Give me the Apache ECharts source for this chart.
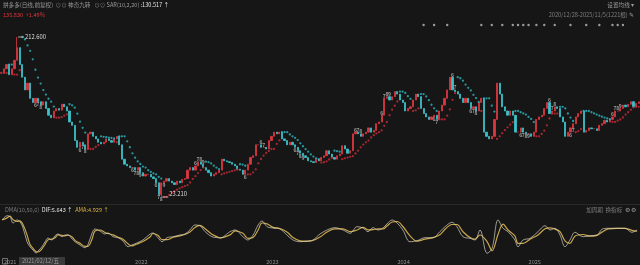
<!DOCTYPE html>
<html><head><meta charset="utf-8">
<script src="https://cdn.jsdelivr.net/npm/echarts@6.0.0/dist/echarts.min.js"></script>
<style>html,body{margin:0;padding:0;background:#161616;}#c{width:640px;height:265px;}</style>
</head><body><div id="c"></div>
<script>
// ---- data (5-trading-day blocks, 2020/12/28 - 2025/11/05) ----
const closes = [
 170,175,180,168,175,185,200,180,165,150,
 158,140,135,140,136,132,136,128,120,117,
 125,128,126,133,130,125,112,108,90,82,
 88,85,80,98,100,95,92,88,86,88,
 92,90,88,92,95,85,68,62,60,58,
 58,55,58,52,48,50,50,47,45,40,
 26,40,42,45,42,40,38,42,40,44,
 45,55,58,55,60,65,62,58,55,52,
 48,50,52,55,68,66,65,64,62,60,
 56,55,50,55,62,70,72,85,85,82,
 82,80,90,95,100,98,100,92,90,85,
 88,85,82,78,75,72,70,66,65,64,
 68,66,70,72,78,74,70,68,72,74,
 84,80,75,78,98,100,98,95,98,100,
 105,100,102,110,112,120,140,142,138,142,
 148,145,138,135,125,128,130,138,145,142,
 128,122,118,115,118,120,115,125,132,140,
 150,165,150,148,145,140,135,140,135,128,
 130,125,135,140,100,95,92,95,115,158,
 145,130,125,120,125,120,100,100,105,100,
 98,98,95,100,115,118,120,128,135,122,
 125,130,128,118,112,95,100,105,110,118,
 122,125,100,102,105,104,104,102,108,110,
 114,112,115,118,125,125,128,132,130,133,
 136,130,134,135.83
];
const peakBlock = 6, peakHigh = 212.6;
const troughBlock = 61, troughLow = 23.21;
const yearStartBlocks = [1, 51, 101, 151, 201];
const yearLabels = ['2021', '2022', '2023', '2024', '2025'];
const eventBlocks = [161,165,170,183,187,191,195,197,199,201,204,207,211,217,223,228,233,235,237];
const dmaBlocks = [0.3,2.2,3.3,4.5,6,7.1,8.3,9.8,10.9,12.1,13.2,14,15.5,16.7,17.8,19.3,20.5,21.6,23.1,24.3,25.4,27,28.1,30,31.9,33,34.6,35.7,37.6,39.5,40.7,42.6,44.5,46.4,48.3,49.8,51.7,54,56.7,57.8,59.7,61.3,63.2,65.5,68.1,70,71.9,73.8,75.7,77.7,80.3,82.6,83.4,87.2,89.1,92.1,94,96,97.9,99.4,101.3,103.6,106.2,108.9,111.2,113.9,116.5,118.8,121.5,124.2,127.2,130.3,133,135.6,137.9,139.8,141.7,143.6,145.5,147,149,150.9,153.1,155.8,158.5,161.5,164.6,167.2,169.2,171.8,173.7,176,178.7,180.6,182.5,185.2,187.1,189.4,191.3,193.2,195.8,197,198.9,201.6,204.6,207.3,209.2,211.1,213,214.9,216.8,218.7,221.8,224.4,227.1,229,231.3,234.7,237.8,240.4,242.4];
const dmaDif = [23.7,31.5,29.7,18.2,23.7,20.6,9.1,-15.8,-24.9,-30.9,-36.3,-32.7,-24.9,-15.8,-9.1,-12.7,-4.9,-1.8,-6.7,-3.6,-3.6,-10.9,-15.8,-21.8,-26.7,-21.8,0,7.3,3.7,-1.8,0,-6.7,-8.5,-14.5,-24.9,-21.8,-18.1,-12.7,-1.8,0,-8.5,-15.8,-8.5,-6.7,-3.6,-1.8,5.5,14.6,13.3,2.4,-6.7,-8.5,-9.1,2.4,5.5,-6.7,-12.7,-3.6,14.6,21.9,11.5,9.1,7.3,-3.6,-12.7,-15.8,-14.5,-12.7,-1.8,5.5,9.7,5.5,-0.5,11.5,9.1,2.4,9.7,5.5,9.1,16.4,23.7,18.2,5.5,-15.8,-14,-8.5,-8.5,2.4,11.5,19.5,11.5,-6.7,-9.6,-12.7,5.5,-36.9,-27.8,23.7,8.6,2.4,-12.7,-24.9,-12.7,-9.6,2.4,13.3,5.5,8.6,-3.6,-24.9,-12.7,1.3,-6.7,-4.9,-3.6,6.8,8.6,8.6,8.6,1.3,5.6];

// ---- derived structures ----
const N = closes.length;
const cats = closes.map((_, i) => i);
const ohlc = closes.map((c, i) => {
  const o = i === 0 ? c : closes[i - 1];
  let lo = Math.min(o, c), hi = Math.max(o, c);
  if (i === peakBlock) hi = peakHigh;
  if (i === troughBlock) lo = troughLow;
  return [o, c, lo, hi];
});
const highs = ohlc.map(d => d[3]), lows = ohlc.map(d => d[2]);

// Parabolic SAR; the daily (10,2,20) setting is rescaled for 5-day blocks
function calcSAR(n, step, maxAf) {
  const out = [];
  let isUp = closes[1] >= closes[0];
  let sar = isUp ? lows[0] : highs[0];
  let ep = isUp ? highs[0] : lows[0];
  let af = step;
  out.push([0, sar, isUp]);
  for (let i = 1; i < N; i++) {
    let next = sar + af * (ep - sar);
    const w0 = Math.max(0, i - n + 1);
    if (isUp) {
      next = Math.min(next, lows[i - 1], lows[Math.max(0, i - 2)]);
      if (lows[i] < next) {
        isUp = false; next = Math.max(...highs.slice(w0, i + 1)); ep = lows[i]; af = step;
      } else if (highs[i] > ep) { ep = highs[i]; af = Math.min(af + step, maxAf); }
    } else {
      next = Math.max(next, highs[i - 1], highs[Math.max(0, i - 2)]);
      if (highs[i] > next) {
        isUp = true; next = Math.min(...lows.slice(w0, i + 1)); ep = highs[i]; af = step;
      } else if (lows[i] < ep) { ep = lows[i]; af = Math.min(af + step, maxAf); }
    }
    sar = next;
    out.push([i, sar, isUp]);
  }
  return out;
}
const sar = calcSAR(3, 0.06, 0.3);
const sarUp = sar.filter(d => d[2]).map(d => [d[0], d[1]]);
const sarDn = sar.filter(d => !d[2]).map(d => [d[0], d[1]]);

// 神奇九转 (TD setup)
const tdUp = [], tdDn = [];
let uc = 0, dc = 0;
for (let i = 4; i < N; i++) {
  if (closes[i] > closes[i - 4]) { uc++; dc = 0; }
  else if (closes[i] < closes[i - 4]) { dc++; uc = 0; }
  else { uc = 0; dc = 0; }
  if (uc >= 6) tdUp.push({ value: [i, highs[i]], n: uc });
  if (dc >= 6) tdDn.push({ value: [i, lows[i]], n: dc });
  if (uc === 9) uc = 0;
  if (dc === 9) dc = 0;
}

const ama = dmaDif.map((v, i) => i === 0 ? v : (v + dmaDif[i - 1]) / 2);
const difData = dmaBlocks.map((b, i) => [b, dmaDif[i]]);
const amaData = dmaBlocks.map((b, i) => [b, ama[i]]);

const FF = '"Noto Sans CJK SC","Noto Sans",sans-serif';
const RED = '#dc3741', CYAN = '#3dc2ca';
const FS = 5.6;

function rich(text, x, y, align, rstyles) {
  return { type: 'text', x: x, y: y, silent: true,
    style: { text: text, fontSize: FS, fontFamily: FF, verticalAlign: 'top', align: align || 'left', fill: '#9a9a9a', rich: rstyles } };
}
const RS = {
  g: { fill: '#9a9a9a', fontSize: FS, fontFamily: FF },
  i: { fill: '#7e7e7e', fontSize: FS, fontFamily: FF },
  w: { fill: '#e6e6e6', fontSize: FS, fontFamily: FF },
  r: { fill: '#e0353a', fontSize: FS, fontFamily: FF },
  y: { fill: '#d9b040', fontSize: FS, fontFamily: FF }
};

const chart = echarts.init(document.getElementById('c'), null, { renderer: 'canvas' });
chart.setOption({
  backgroundColor: '#161616',
  animation: false,
  grid: [
    { left: 0, right: 0, top: 22, height: 179 },
    { left: 0, right: 0, top: 213, height: 44 },
    { left: 0, right: 0, top: 23, height: 4 }
  ],
  xAxis: [
    { type: 'category', gridIndex: 0, data: cats, axisLine: { show: false }, axisTick: { show: false }, axisLabel: { show: false }, splitLine: { show: false } },
    { type: 'category', gridIndex: 1, data: cats, axisLine: { show: false }, axisTick: { show: false },
      axisLabel: { interval: (idx) => yearStartBlocks.includes(idx),
        formatter: (v, idx) => yearLabels[yearStartBlocks.indexOf(idx)] || '',
        color: '#8c8c8c', fontSize: 5.6, align: 'left', margin: 2, fontFamily: FF } },
    { type: 'value', gridIndex: 1, min: -0.5, max: N - 0.5, show: false },
    { type: 'category', gridIndex: 2, data: cats, show: false }
  ],
  yAxis: [
    { type: 'value', gridIndex: 0, min: 18.47, max: 230.36, show: false, splitLine: { show: false } },
    { type: 'value', gridIndex: 1, min: -43.6, max: 36.4, show: false, splitLine: { show: false } },
    { type: 'value', gridIndex: 2, min: -1, max: 1, show: false }
  ],
  series: [
    { type: 'candlestick', xAxisIndex: 0, yAxisIndex: 0, data: ohlc, barWidth: '65%',
      itemStyle: { color: RED, color0: CYAN, borderColor: RED, borderColor0: CYAN, borderWidth: 0.8 },
      markPoint: { silent: true, animation: false,
        data: [
          { coord: [peakBlock, peakHigh], symbol: 'rect', symbolSize: [6, 0.8], symbolOffset: [4, 0],
            itemStyle: { color: '#cfcfcf' },
            label: { show: true, position: 'right', distance: 1, formatter: peakHigh.toFixed(3), color: '#dcdcdc', fontSize: 5.8, fontFamily: FF } },
          { coord: [troughBlock, troughLow], symbol: 'rect', symbolSize: [6, 0.8], symbolOffset: [4, 0],
            itemStyle: { color: '#cfcfcf' },
            label: { show: true, position: 'right', distance: 1, offset: [0, -3], formatter: troughLow.toFixed(3), color: '#dcdcdc', fontSize: 5.8, fontFamily: FF } }
        ] } },
    { type: 'scatter', xAxisIndex: 0, yAxisIndex: 0, data: sarUp, symbolSize: 2.3, itemStyle: { color: '#c92c38' }, silent: true },
    { type: 'scatter', xAxisIndex: 0, yAxisIndex: 0, data: sarDn, symbolSize: 2.3, itemStyle: { color: '#2fb6c0' }, silent: true },
    { type: 'scatter', xAxisIndex: 0, yAxisIndex: 0, data: tdUp, symbolSize: 0, silent: true,
      label: { show: true, position: 'top', distance: 0, fontSize: 5, fontWeight: 'bold', fontFamily: FF,
        formatter: p => p.data.n, color: p => p.data.n === 9 ? '#33c23a' : '#eda22a' } },
    { type: 'scatter', xAxisIndex: 0, yAxisIndex: 0, data: tdDn, symbolSize: 0, silent: true,
      label: { show: true, position: 'bottom', distance: 0, fontSize: 5, fontWeight: 'bold', fontFamily: FF,
        formatter: p => p.data.n, color: p => p.data.n === 9 ? '#b82a2a' : '#eda22a' } },
    { type: 'scatter', xAxisIndex: 3, yAxisIndex: 2, data: eventBlocks.map(b => [b, 0]), symbol: 'circle', symbolSize: 2.4,
      itemStyle: { color: '#bdbdbd' }, silent: true },
    { type: 'line', xAxisIndex: 2, yAxisIndex: 1, data: amaData, smooth: 0.35, showSymbol: false,
      lineStyle: { color: '#c9a64a', width: 1.2 }, silent: true },
    { type: 'line', xAxisIndex: 2, yAxisIndex: 1, data: difData, smooth: 0.35, showSymbol: false,
      lineStyle: { color: '#d8d4c4', width: 0.7 }, silent: true }
  ],
  graphic: [
    rich('{g|拼多多(日线,前复权)}  {i|⊙⊙} {g|神奇九转}   {i|⊙⊙} {g|SAR(10,2,20)} {w|:130.517 ↑}', 3, 2, 'left', RS),
    rich('{r|135.830  +1.49%}', 3, 12, 'left', RS),
    rich('{g|设置均线 ▾}', 634, 2, 'right', RS),
    rich('{i|2020/12/28-2025/11/5(1221根)} {g|✎}', 634, 12, 'right', RS),
    { type: 'line', silent: true, shape: { x1: 0, y1: 204.5, x2: 640, y2: 204.5 }, style: { stroke: '#2a2a2a', lineWidth: 1 } },
    rich('{i|DMA(10,50,6)}  {w|DIF:5.643 ↑}  {y|AMA:4.929 ↑}', 5, 207, 'left', RS),
    rich('{i|加周期  换指标}  {g|⚙ ⚙}', 636, 207, 'right', RS),
    { type: 'rect', silent: true, shape: { x: 19, y: 257, width: 46, height: 8 }, style: { fill: '#3a3a3a' } },
    rich('{g|2021/02/12/五}', 22, 258, 'left', RS),
    { type: 'rect', silent: true, shape: { x: 2.5, y: 258.5, width: 5, height: 5.5 }, style: { fill: 'none', stroke: '#8a8a8a', lineWidth: 0.8 } }
  ]
});
</script></body></html>
